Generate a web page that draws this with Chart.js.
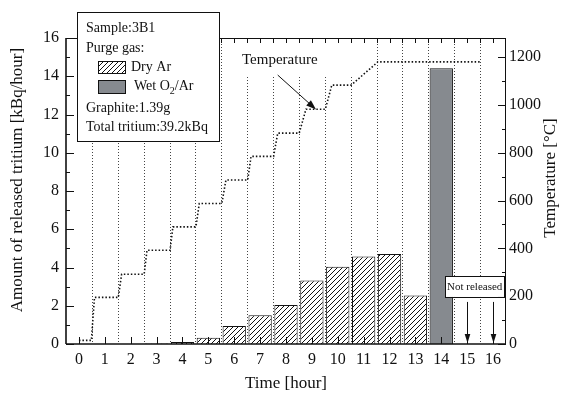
<!DOCTYPE html>
<html>
<head>
<meta charset="utf-8">
<script src="https://cdn.jsdelivr.net/npm/chart.js@4.4.1/dist/chart.umd.min.js"></script>
<style>
  html, body { margin: 0; padding: 0; background: #fff; }
  #wrap { width: 564px; height: 396px; }
</style>
</head>
<body>
<div id="wrap"><canvas id="c" width="564" height="396"></canvas></div>
<script>
// Hourly tritium release (kBq/hour) for sample 3B1
const hours = [0, 1, 2, 3, 4, 5, 6, 7, 8, 9, 10, 11, 12, 13, 14, 15, 16];
const hourLabels = ['0', '1', '2', '3', '4', '5', '6', '7', '8', '9', '10', '11', '12', '13', '14', '15', '16'];
const dryAr   = [0, 0, 0, 0.03, 0.1, 0.33, 0.94, 1.5, 2.04, 3.32, 4.04, 4.57, 4.71, 2.54, null, null, null];
const wetO2Ar = [null, null, null, null, null, null, null, null, null, null, null, null, null, null, 14.42, null, null];
const notReleasedHours = [15, 16];

// Furnace temperature programme (°C), stepped heating
const tempHours  = [0, 0.48, 0.6, 1.52, 1.65, 2.52, 2.63, 3.52, 3.63, 4.52, 4.65, 5.52, 5.68, 6.52, 6.65, 7.52, 7.68, 8.51, 8.77, 9.52, 9.77, 10.52, 11.55, 15.5];
const tempValues = [15, 15, 195, 195, 292, 292, 392, 392, 490, 490, 588, 588, 686, 686, 785, 785, 882, 882, 982, 982, 1083, 1083, 1180, 1180];

// Axis tick labels
const releaseTicks = [0, 2, 4, 6, 8, 10, 12, 14, 16];
const releaseLabels = ['0', '2', '4', '6', '8', '10', '12', '14', '16'];
const tempTicks = [0, 200, 400, 600, 800, 1000, 1200];
const tempLabels = ['0', '200', '400', '600', '800', '1000', '1200'];

const SERIF = '"Liberation Serif", "DejaVu Serif", serif';
const INK = '#111';
const WET_GREY = '#868a8f';

// Diagonal hatch used for the dry-Ar bars
function makeHatch() {
  const s = 5;
  const p = document.createElement('canvas');
  p.width = s; p.height = s;
  const g = p.getContext('2d');
  g.fillStyle = '#fff';
  g.fillRect(0, 0, s, s);
  g.strokeStyle = '#111';
  g.lineWidth = 1;
  g.beginPath();
  g.moveTo(-1, s + 1); g.lineTo(s + 1, -1);
  g.moveTo(-1, 1); g.lineTo(1, -1);
  g.moveTo(s - 1, s + 1); g.lineTo(s + 1, s - 1);
  g.stroke();
  return document.getElementById('c').getContext('2d').createPattern(p, 'repeat');
}
const hatch = makeHatch();

function seg(ctx, x0, y0, x1, y1) {
  ctx.beginPath(); ctx.moveTo(x0, y0); ctx.lineTo(x1, y1); ctx.stroke();
}
function arrow(ctx, x0, y0, x1, y1, len, half) {
  const ang = Math.atan2(y1 - y0, x1 - x0);
  seg(ctx, x0, y0, x1 - Math.cos(ang) * len * 0.6, y1 - Math.sin(ang) * len * 0.6);
  ctx.beginPath();
  ctx.moveTo(x1, y1);
  ctx.lineTo(x1 - Math.cos(ang) * len - Math.sin(ang) * half, y1 - Math.sin(ang) * len + Math.cos(ang) * half);
  ctx.lineTo(x1 - Math.cos(ang) * len + Math.sin(ang) * half, y1 - Math.sin(ang) * len - Math.cos(ang) * half);
  ctx.closePath();
  ctx.fill();
}

const decor = {
  id: 'decor',
  beforeDatasetsDraw(chart) {
    const { ctx, chartArea: a, scales: { x } } = chart;
    ctx.save();
    // dotted separators between the hourly intervals
    ctx.strokeStyle = '#444';
    ctx.lineWidth = 1;
    ctx.setLineDash([1, 2]);
    for (let h = 0.5; h < 16; h += 1) {
      const px = Math.round(x.getPixelForValue(h)) + 0.5;
      seg(ctx, px, a.top, px, a.bottom);
    }
    ctx.setLineDash([]);
    // clear panel behind the "Temperature" caption
    const l = x.getPixelForValue(5.95), r = x.getPixelForValue(10.6);
    ctx.fillStyle = '#fff';
    ctx.fillRect(l, a.top + 1, r - l, 36);
    ctx.restore();
  },
  afterDatasetsDraw(chart) {
    const { ctx, chartArea: a, scales: { x, y, y2 } } = chart;
    ctx.save();
    ctx.strokeStyle = INK;
    ctx.fillStyle = INK;

    // frame
    ctx.lineWidth = 1;
    seg(ctx, a.left, a.top + 0.5, a.right, a.top + 0.5);
    seg(ctx, a.right - 0.5, a.top, a.right - 0.5, a.bottom);
    ctx.lineWidth = 1.6;
    seg(ctx, a.left, a.bottom, a.right, a.bottom);
    seg(ctx, a.left, a.top, a.left, a.bottom);

    // inward tick marks
    ctx.lineWidth = 1;
    for (let v = 0; v <= 16; v++) {
      const py = Math.round(y.getPixelForValue(v)) + 0.5;
      seg(ctx, a.left, py, a.left + (v % 2 === 0 ? 8 : 4), py);
    }
    for (let t = 0; t <= 1200; t += 100) {
      const py = Math.round(y2.getPixelForValue(t)) + 0.5;
      seg(ctx, a.right, py, a.right - (t % 200 === 0 ? 8 : 4), py);
    }
    hours.forEach(h => {
      const px = Math.round(x.getPixelForValue(h)) + 0.5;
      seg(ctx, px, a.bottom, px, a.bottom - 7);
    });
    for (let h = 0; h <= 16; h += 0.5) {
      const px = Math.round(x.getPixelForValue(h)) + 0.5;
      seg(ctx, px, a.top, px, a.top + 5);
    }

    // "Temperature" caption with pointer to the step curve
    ctx.font = '15px ' + SERIF;
    ctx.textAlign = 'center';
    ctx.textBaseline = 'middle';
    ctx.fillText('Temperature', x.getPixelForValue(7.76), y2.getPixelForValue(1188));
    arrow(ctx, x.getPixelForValue(7.68), y2.getPixelForValue(1125),
      x.getPixelForValue(9.16), y2.getPixelForValue(981), 10, 3.5);

    // "Not released" note for hours 15 and 16
    const bx0 = x.getPixelForValue(14.15), bx1 = x.getPixelForValue(16.43);
    const by0 = y.getPixelForValue(3.55), by1 = y.getPixelForValue(2.46);
    ctx.fillStyle = '#fff';
    ctx.fillRect(bx0, by0, bx1 - bx0, by1 - by0);
    ctx.strokeRect(Math.round(bx0) + 0.5, Math.round(by0) + 0.5, Math.round(bx1 - bx0), Math.round(by1 - by0));
    ctx.fillStyle = INK;
    ctx.font = '11px ' + SERIF;
    ctx.fillText('Not released', (bx0 + bx1) / 2, (by0 + by1) / 2 + 0.5);
    notReleasedHours.forEach(h => {
      const px = Math.round(x.getPixelForValue(h)) + 0.5;
      arrow(ctx, px, y.getPixelForValue(2.2), px, a.bottom - 1, 9, 2.8);
    });

    // axis titles
    ctx.font = '17px ' + SERIF;
    ctx.save();
    ctx.translate(18, 180);
    ctx.rotate(-Math.PI / 2);
    ctx.fillText('Amount of released tritium [kBq/hour]', 0, 0);
    ctx.restore();
    ctx.save();
    ctx.translate(551, 178);
    ctx.rotate(-Math.PI / 2);
    ctx.fillText('Temperature [\u00B0C]', 0, 0);
    ctx.restore();

    // key box
    const kx = 77.5, ky = 12.5, kw = 142, kh = 129;
    ctx.fillStyle = '#fff';
    ctx.fillRect(kx, ky, kw, kh);
    ctx.lineWidth = 1;
    ctx.strokeRect(kx, ky, kw, kh);
    ctx.fillStyle = INK;
    ctx.font = '14px ' + SERIF;
    ctx.textAlign = 'left';
    ctx.textBaseline = 'middle';
    ctx.fillText('Sample:3B1', 86, 28);
    ctx.fillText('Purge gas:', 86, 48);
    const ds = chart.data.datasets;
    ctx.fillStyle = ds[1].backgroundColor;
    ctx.fillRect(98, 61, 28, 12);
    ctx.strokeRect(98.5, 61.5, 27, 12);
    ctx.fillStyle = ds[2].backgroundColor;
    ctx.fillRect(98, 80, 28, 13);
    ctx.strokeRect(98.5, 80.5, 27, 13);
    ctx.fillStyle = INK;
    ctx.fillText('Dry Ar', 131, 67);
    let tx = 134;
    ctx.fillText('Wet O', tx, 86);
    tx += ctx.measureText('Wet O').width;
    ctx.font = '10px ' + SERIF;
    ctx.fillText('2', tx, 91);
    tx += ctx.measureText('2').width;
    ctx.font = '14px ' + SERIF;
    ctx.fillText('/Ar', tx, 86);
    ctx.fillText('Graphite:1.39g', 86, 108);
    ctx.fillText('Total tritium:39.2kBq', 86, 127);

    ctx.restore();
  }
};

const toPoints = (xs, ys) => xs.map((h, i) => ({ x: h, y: ys[i] }));

new Chart(document.getElementById('c'), {
  data: {
    datasets: [
      {
        type: 'line',
        label: 'Temperature',
        data: toPoints(tempHours, tempValues),
        yAxisID: 'y2',
        borderColor: INK,
        borderWidth: 1.6,
        borderDash: [1.5, 2],
        pointRadius: 0,
        tension: 0,
        order: 0
      },
      {
        type: 'bar',
        label: 'Dry Ar',
        data: toPoints(hours, dryAr),
        yAxisID: 'y',
        backgroundColor: hatch,
        borderColor: INK,
        borderWidth: 1,
        barPercentage: 0.9,
        categoryPercentage: 1,
        grouped: false,
        order: 1
      },
      {
        type: 'bar',
        label: 'Wet O2/Ar',
        data: toPoints(hours, wetO2Ar),
        yAxisID: 'y',
        backgroundColor: WET_GREY,
        borderColor: INK,
        borderWidth: 1,
        barPercentage: 0.9,
        categoryPercentage: 1,
        grouped: false,
        order: 1
      }
    ]
  },
  options: {
    responsive: false,
    animation: false,
    devicePixelRatio: 1,
    layout: { padding: { top: 38, left: 0, right: 0, bottom: 0 } },
    plugins: { legend: { display: false }, tooltip: { enabled: false } },
    scales: {
      x: {
        type: 'linear',
        position: 'bottom',
        offset: false,
        min: -0.5,
        max: 16.5,
        afterBuildTicks: s => { s.ticks = hours.map(v => ({ value: v })); },
        afterFit: s => { s.height = 52; },
        ticks: {
          autoSkip: false,
          maxRotation: 0,
          padding: 6,
          color: INK,
          font: { family: SERIF, size: 16 },
          callback: v => hourLabels[hours.indexOf(v)]
        },
        grid: { display: false, drawTicks: false, offset: false },
        border: { display: false },
        title: {
          display: true,
          text: 'Time [hour]',
          color: INK,
          font: { family: SERIF, size: 17 },
          padding: { top: 0, bottom: 2 }
        }
      },
      y: {
        type: 'linear',
        position: 'left',
        min: 0,
        max: 16,
        afterBuildTicks: s => { s.ticks = releaseTicks.map(v => ({ value: v })); },
        afterFit: s => { s.width = 66; },
        ticks: {
          padding: 7, color: INK, font: { family: SERIF, size: 16 },
          callback: v => releaseLabels[releaseTicks.indexOf(v)]
        },
        grid: { display: false, drawTicks: false },
        border: { display: false }
      },
      y2: {
        type: 'linear',
        position: 'right',
        min: 0,
        max: 1280,
        afterBuildTicks: s => { s.ticks = tempTicks.map(v => ({ value: v })); },
        afterFit: s => { s.width = 58; },
        ticks: {
          padding: 3, color: INK, font: { family: SERIF, size: 16 },
          callback: v => tempLabels[tempTicks.indexOf(v)]
        },
        grid: { display: false, drawTicks: false },
        border: { display: false }
      }
    }
  },
  plugins: [decor]
});
</script>
</body>
</html>
